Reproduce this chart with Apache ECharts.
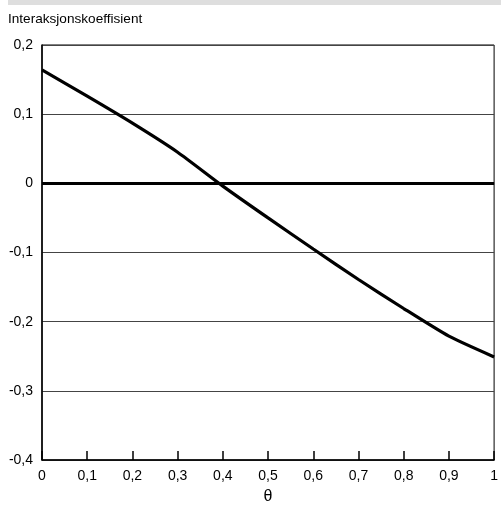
<!DOCTYPE html>
<html>
<head>
<meta charset="utf-8">
<script src="https://cdn.jsdelivr.net/npm/echarts@6/dist/echarts.min.js"></script>
<style>html,body{margin:0;padding:0;background:#fff;overflow:hidden;}#c{width:501px;height:510px;}</style>
</head>
<body>
<div id="c"></div>
<script>
var thetaValues = [0, 0.1, 0.2, 0.3, 0.4, 0.5, 0.6, 0.7, 0.8, 0.9, 1.0];
var coefValues = [0.164, 0.126, 0.087, 0.045, -0.004, -0.050, -0.095, -0.139, -0.181, -0.221, -0.251];
var yTitle = 'Interaksjonskoeffisient';
var xTitle = 'θ';

var FONT = '"Liberation Sans", Arial, sans-serif';
var seriesData = thetaValues.map(function (t, i) { return [t, coefValues[i]]; });
function fmt(v) {
  var r = Math.round(v * 10) / 10;
  return String(r).replace('.', ',');
}
var chart = echarts.init(document.getElementById('c'));
chart.setOption({
  animation: false,
  textStyle: { fontFamily: FONT },
  grid: { left: 42, right: 1, top: 45, bottom: 50, show: true, borderColor: '#000', borderWidth: 1, backgroundColor: 'transparent' },
  graphic: [
    { type: 'rect', shape: { x: 8, y: 0, width: 493, height: 5 }, style: { fill: '#dedede' } },
    { type: 'text', left: 8, top: 12, style: { text: yTitle, fill: '#000', font: '13.6px ' + FONT } }
  ],
  xAxis: {
    type: 'value', min: 0, max: 1, interval: 0.1,
    name: xTitle, nameLocation: 'middle', nameGap: 29,
    nameTextStyle: { color: '#000', fontSize: 16, fontFamily: FONT },
    axisLine: { show: true, onZero: false, lineStyle: { color: '#000', width: 1.5 } },
    axisTick: { show: true, inside: true, length: 9, lineStyle: { color: '#000', width: 1.5 } },
    axisLabel: { color: '#000', fontSize: 14, fontFamily: FONT, margin: 9, formatter: fmt },
    splitLine: { show: false }
  },
  yAxis: {
    type: 'value', min: -0.4, max: 0.2, interval: 0.1,
    axisLine: { show: true, onZero: false, lineStyle: { color: '#000', width: 1.5 } },
    axisTick: { show: false },
    axisLabel: { color: '#000', fontSize: 14, fontFamily: FONT, margin: 9, padding: [4, 0, 0, 0], formatter: fmt },
    splitLine: { show: true, lineStyle: { color: '#444', width: 1 } }
  },
  series: [{
    type: 'line',
    data: seriesData,
    smooth: 0.2,
    symbol: 'none',
    lineStyle: { color: '#000', width: 3.2 },
    markLine: {
      silent: true, symbol: 'none', label: { show: false },
      lineStyle: { color: '#000', width: 3, type: 'solid' },
      data: [{ yAxis: 0 }]
    }
  }]
});
</script>
</body>
</html>
